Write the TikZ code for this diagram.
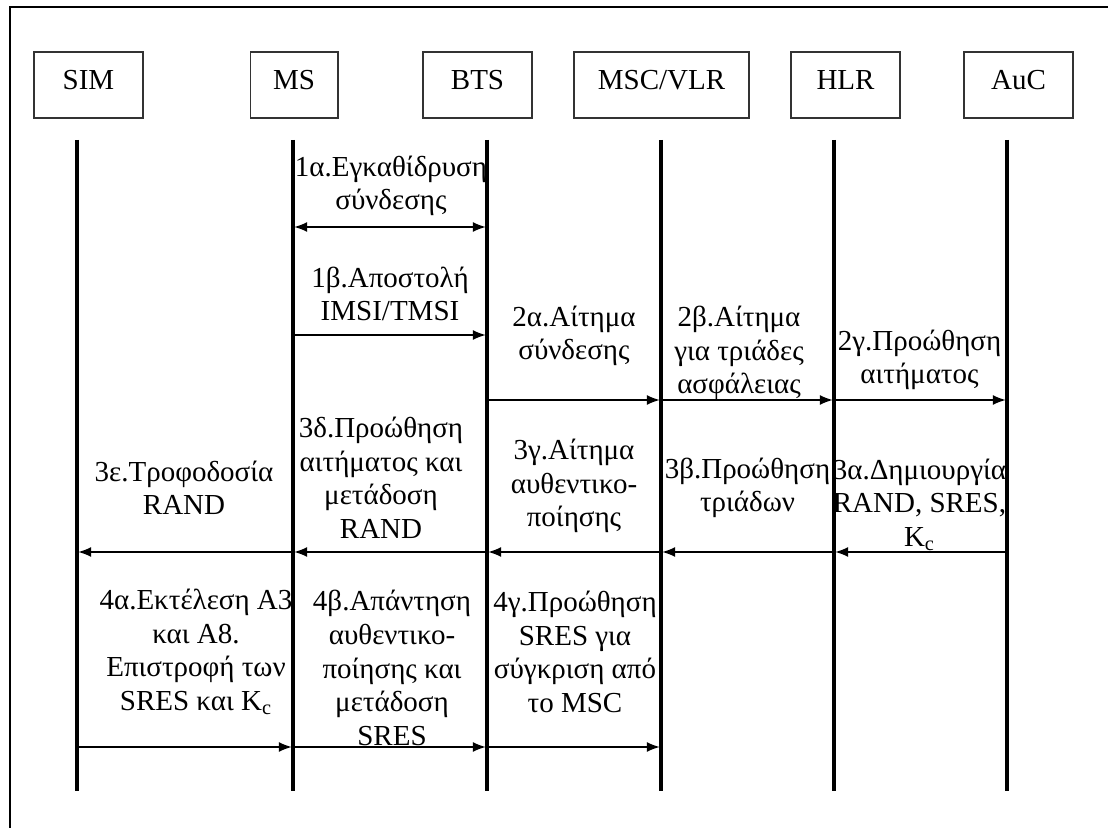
\documentclass[tikz,border=0pt]{standalone}
\usepackage{fontspec}
\setmainfont{Liberation Serif}
\usetikzlibrary{arrows.meta,positioning}

\begin{document}
\begin{tikzpicture}[
        x=0.5pt, y=-0.5pt,
        every node/.style={font=\fontsize{14.5}{16.8}\selectfont},
        entity/.style={draw=black!80, line width=0.75pt, minimum height=33pt, minimum width=54.5pt, inner sep=0pt, text height=19pt, text depth=14pt},
        msg/.style={align=center, inner sep=0pt},
        lifeline/.style={line width=1.6pt},
        arrow/.style={-{Latex[length=6.5pt,width=5pt]}, line width=0.75pt, shorten >=0.6pt},
        darrow/.style={{Latex[length=6.5pt,width=5pt]}-{Latex[length=6.5pt,width=5pt]}, line width=0.75pt, shorten >=0.6pt, shorten <=0.6pt}
    ]
        \useasboundingbox (0,0) rectangle (1108,828);

        % Frame
        \draw[line width=1.1pt] (1108,7) -- (10,7) -- (10,828);

        % Entities
        \node[entity] (simbox) at (88.5,85) {SIM};
        \node[entity, minimum width=43.75pt] (msbox) at (294,85) {MS};
        \node[entity] (btsbox) at (477.5,85) {BTS};
        \node[entity, minimum width=87.5pt] (mscbox) at (661.5,85) {MSC/VLR};
        \node[entity] (hlrbox) at (845.5,85) {HLR};
        \node[entity] (aucbox) at (1018.5,85) {AuC};

        % Lifelines
        \coordinate (sim) at (77,140);
        \coordinate (ms) at (293,140);
        \coordinate (bts) at (487,140);
        \coordinate (msc) at (661,140);
        \coordinate (hlr) at (834,140);
        \coordinate (auc) at (1007,140);
        \coordinate (bot) at (0,791);
        \draw[lifeline] (sim) -- (sim |- bot);
        \draw[lifeline] (ms) -- (ms |- bot);
        \draw[lifeline] (bts) -- (bts |- bot);
        \draw[lifeline] (msc) -- (msc |- bot);
        \draw[lifeline] (hlr) -- (hlr |- bot);
        \draw[lifeline] (auc) -- (auc |- bot);

        % Message rows
        \coordinate (r1a) at (0,227);
        \coordinate (r1b) at (0,335);
        \coordinate (r2) at (0,400);
        \coordinate (r3) at (0,552);
        \coordinate (r4) at (0,747);

        % Step 1
        \node[msg] (t1a) at (391,186) {1α.Εγκαθίδρυση\\σύνδεσης};
        \node[msg] (t1b) at (390,294) {1β.Αποστολή\\IMSI/TMSI};
        \draw[darrow] (ms |- r1a) -- (bts |- r1a);
        \draw[arrow] (ms |- r1b) -- (bts |- r1b);

        % Step 2
        \node[msg] (t2a) at (574,336) {2α.Αίτημα\\σύνδεσης};
        \node[msg] (t2b) at (739,353) {2β.Αίτημα\\για τριάδες\\ασφάλειας};
        \node[msg] (t2c) at (919.5,360) {2γ.Προώθηση\\αιτήματος};
        \draw[arrow] (bts |- r2) -- (msc |- r2);
        \draw[arrow] (msc |- r2) -- (hlr |- r2);
        \draw[arrow] (hlr |- r2) -- (auc |- r2);

        % Step 3
        \node[msg] (t3a) at (919.5,505) {3α.Δημιουργία\\RAND, SRES,\\K\textsubscript{c}};
        \node[msg] (t3b) at (747.5,488) {3β.Προώθηση\\τριάδων};
        \node[msg] (t3c) at (574,486) {3γ.Αίτημα\\αυθεντικο-\\ποίησης};
        \node[msg] (t3d) at (381,478) {3δ.Προώθηση\\αιτήματος και\\μετάδοση\\RAND};
        \node[msg] (t3e) at (184,488) {3ε.Τροφοδοσία\\RAND};
        \draw[arrow] (auc |- r3) -- (hlr |- r3);
        \draw[arrow] (hlr |- r3) -- (msc |- r3);
        \draw[arrow] (msc |- r3) -- (bts |- r3);
        \draw[arrow] (bts |- r3) -- (ms |- r3);
        \draw[arrow] (ms |- r3) -- (sim |- r3);

        % Step 4
        \node[msg] (t4a) at (196,652) {4α.Εκτέλεση A3\\και A8.\\Επιστροφή των\\SRES και K\textsubscript{c}};
        \node[msg] (t4b) at (392,668) {4β.Απάντηση\\αυθεντικο-\\ποίησης και\\μετάδοση\\SRES};
        \node[msg] (t4c) at (575,652) {4γ.Προώθηση\\SRES για\\σύγκριση από\\το MSC};
        \draw[arrow] (sim |- r4) -- (ms |- r4);
        \draw[arrow] (ms |- r4) -- (bts |- r4);
        \draw[arrow] (bts |- r4) -- (msc |- r4);
    \end{tikzpicture}
\end{document}
